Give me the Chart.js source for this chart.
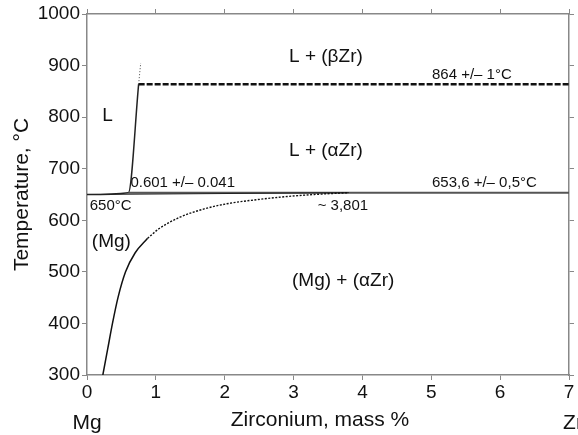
<!DOCTYPE html>
<html>
<head>
<meta charset="utf-8">
<script src="https://cdn.jsdelivr.net/npm/chart.js@4"></script>
<style>
  html, body { margin: 0; padding: 0; background: #fff; }
  #wrap { width: 578px; height: 435px; }
</style>
</head>
<body>
<div id="wrap"><canvas id="phaseChart" width="578" height="435"></canvas></div>
<script>
// Mg-Zr phase diagram, Mg-rich corner

const xTicks = [0, 1, 2, 3, 4, 5, 6, 7];
const yTicks = [300, 400, 500, 600, 700, 800, 900, 1000];

// liquidus from Mg to the peritectic
const liquidus = [[0, 650], [0.601, 653.6], [0.75, 864]];
const liquidusUpper = [[0.75, 864], [0.78, 905]];
// peritectic L + (aZr) -> L + (bZr)
const upperPeritectic = [[0.75, 864], [7, 864]];
// peritectic at 653.6
const lowerPeritectic = [[0.601, 653.6], [7, 653.6]];
const solidus = [[0, 650], [3.801, 653.6]];
// solvus of (Mg)
const solvusSolid = [[0.23, 300], [0.3, 350], [0.37, 400], [0.45, 450], [0.56, 500], [0.7, 537], [0.88, 565]];
const solvusDotted = [[0.88, 565], [1.05, 584], [1.35, 606], [1.7, 622], [2.03, 632], [2.47, 640], [2.9, 646], [3.3, 650], [3.8, 653.6]];

// text labels: [text, x, T, align, size]
const labels = [
  ["L + (\u03B2Zr)", 3.47, 917, "center", 19],
  ["864 +/\u2013 1\u00B0C", 5.01, 882, "left", 15],
  ["L", 0.3, 802, "center", 19],
  ["L + (\u03B1Zr)", 3.47, 734, "center", 19],
  ["0.601 +/\u2013 0.041", 0.63, 672, "left", 15],
  ["653,6 +/\u2013 0,5\u00B0C", 5.01, 672, "left", 15],
  ["650\u00B0C", 0.04, 628, "left", 15],
  ["~ 3,801", 3.35, 628, "left", 15],
  ["(Mg)", 0.07, 558, "left", 19],
  ["(Mg) + (\u03B1Zr)", 3.72, 482, "center", 19]
];

const toPts = arr => arr.map(p => ({ x: p[0], y: p[1] }));
const FONT = "'Liberation Sans', Arial, sans-serif";

function line(data, color, width, dash) {
  return {
    data: toPts(data),
    showLine: true,
    borderColor: color,
    backgroundColor: color,
    borderWidth: width,
    borderDash: dash || [],
    pointRadius: 0,
    cubicInterpolationMode: "monotone"
  };
}

const textPlugin = {
  id: "phaseText",
  afterDatasetsDraw(chart) {
    const ctx = chart.ctx;
    const xs = chart.scales.x, ys = chart.scales.y;
    ctx.save();
    ctx.fillStyle = "#111";
    ctx.textBaseline = "middle";
    labels.forEach(([t, x, y, align, size]) => {
      ctx.font = size + "px " + FONT;
      ctx.textAlign = align;
      ctx.fillText(t, xs.getPixelForValue(x), ys.getPixelForValue(y));
    });
    // axis captions
    ctx.font = "21px " + FONT;
    ctx.textAlign = "center";
    ctx.fillText("Mg", xs.getPixelForValue(0), 423);
    ctx.fillText("Zr", xs.getPixelForValue(7) + 4, 423);
    ctx.fillText("Zirconium, mass %", 320, 420);
    ctx.translate(22, (ys.top + ys.bottom) / 2);
    ctx.rotate(-Math.PI / 2);
    ctx.fillText("Temperature, \u00B0C", 0, 0);
    ctx.restore();
  }
};

const gridOpts = { display: true, drawOnChartArea: false, drawTicks: true, tickLength: 5, color: "#888" };
const tickFont = { family: FONT, size: 19 };

new Chart(document.getElementById("phaseChart").getContext("2d"), {
  type: "scatter",
  data: {
    datasets: [
      line(solvusSolid, "#111", 1.5),
      line(solvusDotted, "#111", 1.4, [2, 1.5]),
      line(solidus, "#222", 1),
      line(lowerPeritectic, "#555", 2),
      line(liquidus, "#222", 1.5),
      line(liquidusUpper, "#444", 1, [1, 2]),
      line(upperPeritectic, "#111", 2.5, [6, 2])
    ]
  },
  options: {
    responsive: false,
    animation: false,
    layout: { padding: { top: 14, right: 9, left: 0, bottom: 0 } },
    plugins: { legend: { display: false }, tooltip: { enabled: false } },
    scales: {
      x: {
        type: "linear",
        min: 0, max: 7,
        afterBuildTicks: s => { s.ticks = xTicks.map(v => ({ value: v })); },
        afterFit: s => { s.height = 60; },
        ticks: { color: "#111", font: tickFont, padding: 1, callback: v => String(v) },
        grid: gridOpts,
        border: { color: "#888", width: 1.5 }
      },
      y: {
        type: "linear",
        min: 300, max: 1000,
        afterBuildTicks: s => { s.ticks = yTicks.map(v => ({ value: v })); },
        afterFit: s => { s.width = 87; },
        ticks: { color: "#111", font: tickFont, padding: 2, callback: v => String(v) },
        grid: gridOpts,
        border: { color: "#888", width: 1.5 }
      },
      xTop: {
        type: "linear", position: "top",
        min: 0, max: 7,
        afterBuildTicks: s => { s.ticks = xTicks.map(v => ({ value: v })); },
        afterFit: s => { s.height = 0; },
        ticks: { display: false },
        grid: gridOpts,
        border: { color: "#888", width: 1.5 }
      },
      yRight: {
        type: "linear", position: "right",
        min: 300, max: 1000,
        afterBuildTicks: s => { s.ticks = yTicks.map(v => ({ value: v })); },
        afterFit: s => { s.width = 0; },
        ticks: { display: false },
        grid: gridOpts,
        border: { color: "#888", width: 1.5 }
      }
    }
  },
  plugins: [textPlugin]
});
</script>
</body>
</html>
